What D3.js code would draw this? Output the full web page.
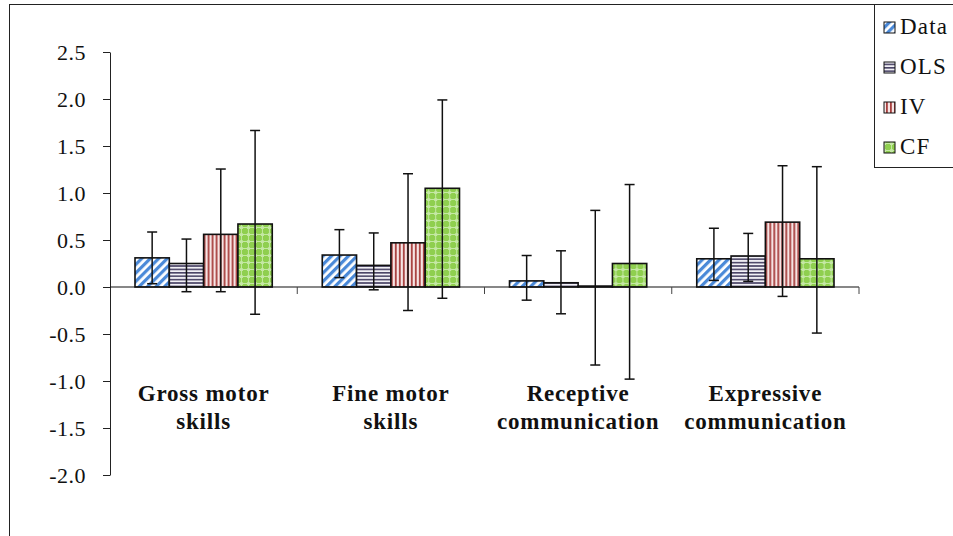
<!DOCTYPE html>
<html>
<head>
<meta charset="utf-8">
<script src="https://cdn.jsdelivr.net/npm/d3@7"></script>
<style>
  body { margin: 0; background: #fff; }
  svg { display: block; font-family: 'Liberation Serif', 'DejaVu Serif', 'Times New Roman', serif; }
</style>
</head>
<body>
<div id="chart-container"></div>
<script>
// Data
const categories = [
    ["Gross motor", "skills"],
    ["Fine motor", "skills"],
    ["Receptive", "communication"],
    ["Expressive", "communication"]
];
const seriesNames = ["Data", "OLS", "IV", "CF"];

const dataVals = [0.31, 0.34, 0.065, 0.30];
const olsVals  = [0.25, 0.23, 0.045, 0.33];
const ivVals   = [0.56, 0.47, 0.01, 0.69];
const cfVals   = [0.67, 1.05, 0.25, 0.30];

// error bar ends (low, high)
const dataLow  = [0.035, 0.10, -0.14, 0.07];
const dataHigh = [0.585, 0.61, 0.335, 0.625];
const olsLow   = [-0.05, -0.03, -0.285, 0.06];
const olsHigh  = [0.51, 0.575, 0.385, 0.57];
const ivLow    = [-0.05, -0.25, -0.83, -0.10];
const ivHigh   = [1.255, 1.205, 0.815, 1.29];
const cfLow    = [-0.29, -0.12, -0.98, -0.49];
const cfHigh   = [1.665, 1.99, 1.09, 1.28];

const yTicks = [2.5, 2.0, 1.5, 1.0, 0.5, 0.0, -0.5, -1.0, -1.5, -2.0];

const values = [dataVals, olsVals, ivVals, cfVals];
const lows = [dataLow, olsLow, ivLow, cfLow];
const highs = [dataHigh, olsHigh, ivHigh, cfHigh];

const rows = [];
categories.forEach((c, ci) => {
    seriesNames.forEach((s, si) => {
        rows.push({cat: ci, series: s, si: si, value: values[si][ci], lo: lows[si][ci], hi: highs[si][ci]});
    });
});

const FONT = "'Liberation Serif', 'DejaVu Serif', 'Times New Roman', serif";
const W = 953, H = 536;
const svg = d3.select("#chart-container").append("svg")
    .attr("width", W)
    .attr("height", H);

// patterns
const defs = svg.append("defs");

const pData = defs.append("pattern").attr("id", "pat-Data")
    .attr("patternUnits", "userSpaceOnUse").attr("width", 6).attr("height", 6)
    .attr("patternTransform", "rotate(45)");
pData.append("rect").attr("width", 6).attr("height", 6).attr("fill", "#ffffff");
pData.append("rect").attr("width", 3.2).attr("height", 6).attr("fill", "#4a89d8");

const pOls = defs.append("pattern").attr("id", "pat-OLS")
    .attr("patternUnits", "userSpaceOnUse").attr("width", 4).attr("height", 3.4);
pOls.append("rect").attr("width", 4).attr("height", 3.4).attr("fill", "#f2f1f6");
pOls.append("rect").attr("width", 4).attr("height", 1.6).attr("fill", "#4a4466");

const pIv = defs.append("pattern").attr("id", "pat-IV")
    .attr("patternUnits", "userSpaceOnUse").attr("width", 4).attr("height", 4);
pIv.append("rect").attr("width", 4).attr("height", 4).attr("fill", "#f6e4e4");
pIv.append("rect").attr("width", 1.8).attr("height", 4).attr("fill", "#a8403f");

const pCf = defs.append("pattern").attr("id", "pat-CF")
    .attr("patternUnits", "userSpaceOnUse").attr("width", 7).attr("height", 7);
pCf.append("rect").attr("width", 7).attr("height", 7).attr("fill", "#8fcf4f");
pCf.append("circle").attr("cx", 3.5).attr("cy", 3.5).attr("r", 1.6).attr("fill", "#e4f5d4");
pCf.append("rect").attr("x", 3).attr("y", 0).attr("width", 1).attr("height", 7).attr("fill", "#c4e8a4");
pCf.append("rect").attr("x", 0).attr("y", 3).attr("width", 7).attr("height", 1).attr("fill", "#c4e8a4");

// outer frame
svg.append("rect")
    .attr("x", 9.5).attr("y", 4.5)
    .attr("width", W).attr("height", H)
    .attr("fill", "none")
    .attr("stroke", "#222")
    .attr("stroke-width", 1);

const margin = {left: 110, right: 859, top: 52, bottom: 475};

const x = d3.scaleBand()
    .domain(d3.range(categories.length))
    .range([margin.left, margin.right])
    .paddingInner(0).paddingOuter(0);

const xInner = d3.scaleBand()
    .domain(seriesNames)
    .range([25, x.bandwidth() - 25])
    .padding(0);

const y = d3.scaleLinear()
    .domain([-2.0, 2.5])
    .range([margin.bottom, margin.top]);

// y axis
const yAxis = svg.append("g")
    .attr("transform", `translate(${margin.left},0)`)
    .call(d3.axisLeft(y).tickValues(yTicks).tickFormat(d => d.toFixed(1))
        .tickSize(7).tickSizeOuter(0).tickPadding(17));
yAxis.select(".domain").attr("stroke", "#222").attr("stroke-width", 1);
yAxis.selectAll(".tick line").attr("stroke", "#222");
yAxis.selectAll(".tick text")
    .attr("font-family", FONT)
    .attr("font-size", 22)
    .attr("letter-spacing", 0.5)
    .attr("fill", "#111")
    .attr("dy", "0.34em");

// bars
const groups = svg.append("g").selectAll("g")
    .data(rows)
    .enter().append("g")
    .attr("transform", d => `translate(${x(d.cat) + xInner(d.series)},0)`);

groups.append("rect")
    .attr("x", 0)
    .attr("width", xInner.bandwidth())
    .attr("y", d => y(Math.max(0, d.value)))
    .attr("height", d => Math.abs(y(d.value) - y(0)))
    .attr("fill", d => `url(#pat-${d.series})`)
    .attr("stroke", "#111")
    .attr("stroke-width", 1.6);

// x axis line at zero with boundary ticks
const xAxisG = svg.append("g");
xAxisG.append("line")
    .attr("x1", margin.left).attr("x2", margin.right)
    .attr("y1", y(0)).attr("y2", y(0))
    .attr("stroke", "#111").attr("stroke-width", 1.2);
const bounds = d3.range(categories.length + 1);
xAxisG.selectAll(".bt")
    .data(bounds.slice(1))
    .enter().append("line")
    .attr("x1", d => d < categories.length ? x(d) : x(d - 1) + x.bandwidth())
    .attr("x2", d => d < categories.length ? x(d) : x(d - 1) + x.bandwidth())
    .attr("y1", y(0)).attr("y2", y(0) + 7)
    .attr("stroke", "#444").attr("stroke-width", 1);

// error bars
const cap = 5;
groups.append("line")
    .attr("x1", xInner.bandwidth() / 2).attr("x2", xInner.bandwidth() / 2)
    .attr("y1", d => y(d.lo)).attr("y2", d => y(d.hi))
    .attr("stroke", "#111").attr("stroke-width", 1.5);
groups.append("line")
    .attr("x1", xInner.bandwidth() / 2 - cap).attr("x2", xInner.bandwidth() / 2 + cap)
    .attr("y1", d => y(d.hi)).attr("y2", d => y(d.hi))
    .attr("stroke", "#111").attr("stroke-width", 1.5);
groups.append("line")
    .attr("x1", xInner.bandwidth() / 2 - cap).attr("x2", xInner.bandwidth() / 2 + cap)
    .attr("y1", d => y(d.lo)).attr("y2", d => y(d.lo))
    .attr("stroke", "#111").attr("stroke-width", 1.5);

// category labels
const labels = svg.append("g").selectAll("text")
    .data(categories)
    .enter().append("text")
    .attr("text-anchor", "middle")
    .attr("font-family", FONT)
    .attr("font-weight", "bold")
    .attr("font-size", 23)
    .attr("letter-spacing", 0.8)
    .attr("fill", "#111");
labels.each(function(d, i) {
    const t = d3.select(this);
    d.forEach((line, li) => {
        t.append("tspan")
            .attr("x", x(i) + x.bandwidth() / 2)
            .attr("y", 401 + li * 28)
            .text(line);
    });
});

// legend
const legend = svg.append("g").attr("transform", "translate(874,4)");
legend.append("rect")
    .attr("x", 0.5).attr("y", 0.5)
    .attr("width", 120).attr("height", 163)
    .attr("fill", "#fff")
    .attr("stroke", "#222").attr("stroke-width", 1);
const li = legend.selectAll(".item")
    .data(seriesNames)
    .enter().append("g")
    .attr("transform", (d, i) => `translate(0,${23 + i * 40})`);
li.append("rect")
    .attr("x", 10).attr("y", -5)
    .attr("width", 11).attr("height", 11)
    .attr("fill", d => `url(#pat-${d})`)
    .attr("stroke", "#111").attr("stroke-width", 1);
li.append("text")
    .attr("x", 26)
    .attr("y", 7)
    .attr("font-family", FONT)
    .attr("font-size", 23)
    .attr("letter-spacing", 1.2)
    .attr("fill", "#111")
    .text(d => d);
</script>
</body>
</html>
